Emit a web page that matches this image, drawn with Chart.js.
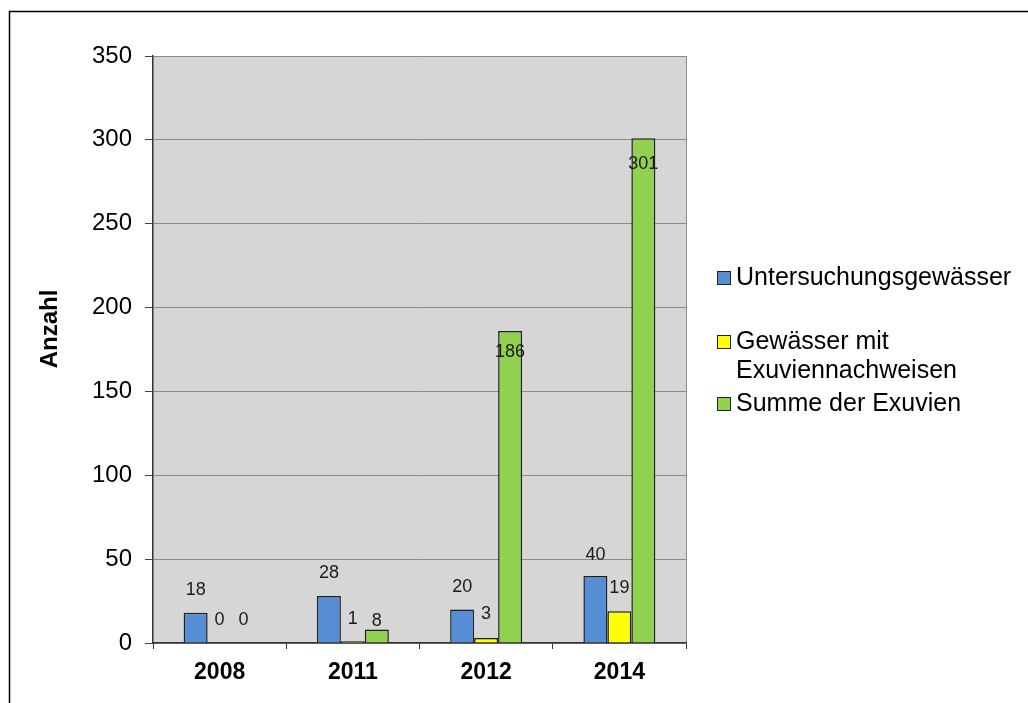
<!DOCTYPE html>
<html>
<head>
<meta charset="utf-8">
<script src="https://cdn.jsdelivr.net/npm/chart.js@4/dist/chart.umd.min.js"></script>
<style>
  body { margin: 0; background: #fff; }
  canvas { display: block; }
</style>
</head>
<body>
<canvas id="exuvienChart" width="1028" height="703"></canvas>
<script>
const years = ['2008', '2011', '2012', '2014'];
const untersuchungsgewaesser = [18, 28, 20, 40];
const gewaesserMitNachweis = [0, 1, 3, 19];
const summeExuvien = [0, 8, 186, 301];
const seriesNames = ['Untersuchungsgewässer', 'Gewässer mit Exuviennachweisen', 'Summe der Exuvien'];
const legendLines = [['Untersuchungsgewässer'], ['Gewässer mit', 'Exuviennachweisen'], ['Summe der Exuvien']];
const seriesColors = ['#558ed5', '#ffff00', '#92d050'];
const yMax = 350;
const yStep = 50;
// how far (px) each value label sits above the bar top, as placed in the original
const labelLift = [[23, 23, 22, 21], [23, 22, 24, 23], [23, 9, -21, -26]];

const FONT = '"Liberation Sans", Arial, sans-serif';

const framePlugin = {
    id: 'frame',
    beforeDraw(chart) {
        const {ctx, chartArea: a} = chart;
        ctx.save();
        ctx.fillStyle = '#fff';
        ctx.fillRect(0, 0, chart.width, chart.height);
        ctx.strokeStyle = '#000';
        ctx.lineWidth = 1.5;
        ctx.beginPath();
        ctx.moveTo(9.5, chart.height + 5);
        ctx.lineTo(9.5, 11.5);
        ctx.lineTo(chart.width + 5, 11.5);
        ctx.stroke();
        ctx.fillStyle = '#d6d6d6';
        ctx.fillRect(a.left, a.top, a.right - a.left, a.bottom - a.top);
        ctx.strokeStyle = '#8c8c8c';
        ctx.lineWidth = 1;
        ctx.beginPath();
        ctx.moveTo(a.right + 0.5, a.top);
        ctx.lineTo(a.right + 0.5, a.bottom);
        ctx.stroke();
        ctx.restore();
    }
};

const extrasPlugin = {
    id: 'extras',
    afterDatasetsDraw(chart) {
        const ctx = chart.ctx;
        ctx.save();
        ctx.fillStyle = '#1a1a1a';
        ctx.font = '18px ' + FONT;
        ctx.textAlign = 'center';
        ctx.textBaseline = 'middle';
        chart.data.datasets.forEach((ds, di) => {
            chart.getDatasetMeta(di).data.forEach((bar, i) => {
                ctx.fillText(String(ds.data[i]), bar.x, bar.y - labelLift[di][i]);
            });
        });
        ctx.restore();
    },
    afterDraw(chart) {
        const ctx = chart.ctx;
        ctx.save();
        // y axis title
        ctx.translate(50, 329);
        ctx.rotate(-Math.PI / 2);
        ctx.font = 'bold 24px ' + FONT;
        ctx.fillStyle = '#000';
        ctx.textAlign = 'center';
        ctx.textBaseline = 'middle';
        ctx.fillText('Anzahl', 0, 0);
        ctx.restore();

        // legend
        ctx.save();
        ctx.font = '25px ' + FONT;
        ctx.textBaseline = 'middle';
        ctx.textAlign = 'left';
        const rows = [278, 342, 404];
        legendLines.forEach((lines, i) => {
            const y = rows[i];
            ctx.fillStyle = seriesColors[i];
            ctx.fillRect(717, y - 7, 14, 14);
            ctx.strokeStyle = '#222';
            ctx.lineWidth = 1;
            ctx.strokeRect(717.5, y - 6.5, 13, 13);
            ctx.fillStyle = '#000';
            lines.forEach((t, j) => ctx.fillText(t, 736, y + j * 29));
        });
        ctx.restore();
    }
};

new Chart(document.getElementById('exuvienChart'), {
    type: 'bar',
    data: {
        labels: years,
        datasets: [
            {label: seriesNames[0], data: untersuchungsgewaesser},
            {label: seriesNames[1], data: gewaesserMitNachweis},
            {label: seriesNames[2], data: summeExuvien}
        ].map((d, i) => Object.assign(d, {
            backgroundColor: seriesColors[i],
            borderColor: '#1f1f1f',
            borderWidth: 1.5,
            borderSkipped: 'bottom',
            categoryPercentage: 0.54,
            barPercentage: 1
        }))
    },
    options: {
        responsive: false,
        animation: false,
        layout: {padding: {left: 0, top: 56, right: 342, bottom: 0}},
        plugins: {
            legend: {display: false},
            tooltip: {enabled: false}
        },
        scales: {
            x: {
                afterFit(scale) { scale.height = 60; },
                grid: {
                    offset: true,
                    drawOnChartArea: false,
                    tickLength: 6,
                    tickColor: '#333'
                },
                border: {color: '#333', width: 1.5},
                ticks: {
                    padding: 10,
                    color: '#000',
                    font: {family: FONT, size: 23, weight: 'bold'}
                }
            },
            y: {
                min: 0,
                max: yMax,
                afterFit(scale) { scale.width = 153; },
                grid: {
                    color: '#8c8c8c',
                    tickLength: 8,
                    tickColor: '#444'
                },
                border: {color: '#333', width: 1.5},
                ticks: {
                    stepSize: yStep,
                    padding: 13,
                    color: '#000',
                    font: {family: FONT, size: 24}
                }
            }
        }
    },
    plugins: [framePlugin, extrasPlugin]
});
</script>
</body>
</html>
